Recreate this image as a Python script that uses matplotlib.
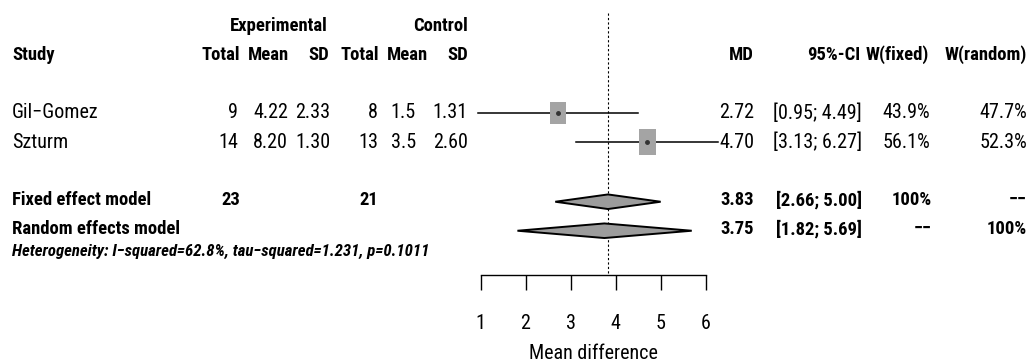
import matplotlib
matplotlib.use("Agg")
import numpy as np
from matplotlib import pyplot as plt
from matplotlib import font_manager
from matplotlib.patches import Rectangle, Polygon

# study data
studies = ["Gil\u2212Gomez", "Szturm"]
exp_n = [9, 14]
exp_mean = ["4.22", "8.20"]
exp_sd = ["2.33", "1.30"]
ctl_n = [8, 13]
ctl_mean = ["1.5", "3.5"]
ctl_sd = ["1.31", "2.60"]
md = [2.72, 4.70]
ci_lo = [0.95, 3.13]
ci_hi = [4.49, 6.27]
w_fixed = [43.9, 56.1]
w_random = [47.7, 52.3]

# pooled results
models = ["Fixed effect model", "Random effects model"]
pooled_md = [3.83, 3.75]
pooled_lo = [2.66, 1.82]
pooled_hi = [5.00, 5.69]
pooled_wf = ["100%", "\u2212\u2212"]
pooled_wr = ["\u2212\u2212", "100%"]
total_exp = 23
total_ctl = 21
hetero = "Heterogeneity: I\u2212squared=62.8%, tau\u2212squared=1.231, p=0.1011"
xticks = [1, 2, 3, 4, 5, 6]

# condensed sans with bold + italic if installed, else Liberation Sans made smaller
names = {f.name for f in font_manager.fontManager.ttflist}
if "Roboto Condensed" in names:
    fam, scale = "Roboto Condensed", 1.0
else:
    fam, scale = "Liberation Sans", 0.82
plt.rcParams['font.family'] = [fam, 'DejaVu Sans']
fs = 14.5 * scale
fs_bold = 13.4 * scale
fs_small = 12.1 * scale

W, H = 1035, 364
fig = plt.figure(figsize=(W / 100, H / 100), dpi=100)
ax = fig.add_axes([0, 0, 1, 1])

# layout: x=1 at px 480.5, 45.04 px per unit; rows 29 px apart
unit = 45.04
x0px = 480.5
ax.set_xlim(1 - x0px / unit, 1 + (W - x0px) / unit)
ax.set_ylim((H - 26) / 29, -26 / 29)


def px2x(px):
    return 1 + (px - x0px) / unit


row_head0 = 0
row_head = 1
rows = [3, 4]
row_fixed = 6
row_random = 7
row_het = 7.77
axis_row = (275 - 26) / 29

bold = dict(fontsize=fs_bold, fontweight='bold', va='center')
reg = dict(fontsize=fs, va='center')

# headers
ax.text(px2x(328), row_head0, "Experimental", ha='right', **bold)
ax.text(px2x(468), row_head0, "Control", ha='right', **bold)
ax.text(px2x(12), row_head, "Study", ha='left', **bold)
for txt, px in [("Total", 240), ("Mean", 289), ("SD", 329), ("Total", 379),
                ("Mean", 428), ("SD", 468), ("MD", 754), ("95%-CI", 860),
                ("W(fixed)", 929), ("W(random)", 1027)]:
    ax.text(px2x(px), row_head, txt, ha='right', **bold)

# study rows
for i, r in enumerate(rows):
    ax.text(px2x(12), r, studies[i], ha='left', **reg)
    ax.text(px2x(238), r, str(exp_n[i]), ha='right', **reg)
    ax.text(px2x(288), r, exp_mean[i], ha='right', **reg)
    ax.text(px2x(330), r, exp_sd[i], ha='right', **reg)
    ax.text(px2x(378), r, str(ctl_n[i]), ha='right', **reg)
    ax.text(px2x(416), r, ctl_mean[i], ha='right', **reg)
    ax.text(px2x(468), r, ctl_sd[i], ha='right', **reg)
    ax.text(px2x(754), r, f"{md[i]:.2f}", ha='right', **reg)
    ax.text(px2x(862), r, f"[{ci_lo[i]:.2f}; {ci_hi[i]:.2f}]", ha='right', **reg)
    ax.text(px2x(930), r, f"{w_fixed[i]:.1f}%", ha='right', **reg)
    ax.text(px2x(1027), r, f"{w_random[i]:.1f}%", ha='right', **reg)

    # CI line and weighted square
    ax.plot([ci_lo[i], ci_hi[i]], [r, r], color='black', lw=1.1, zorder=3)
    bw = 2.3 * np.sqrt(w_fixed[i]) / unit
    bh = 3.4 * np.sqrt(w_fixed[i]) / 29
    ax.add_patch(Rectangle((md[i] - bw / 2, r - bh / 2), bw, bh,
                           facecolor='#a4a4a4', edgecolor='none', zorder=4))
    ax.plot([md[i]], [r], marker='o', ms=2.5, color='#333333', zorder=5)

# pooled rows
for j, r in enumerate([row_fixed, row_random]):
    ax.text(px2x(12), r, models[j], ha='left', **bold)
    ax.text(px2x(754), r, f"{pooled_md[j]:.2f}", ha='right', **bold)
    ax.text(px2x(862), r, f"[{pooled_lo[j]:.2f}; {pooled_hi[j]:.2f}]", ha='right', **bold)
    ax.text(px2x(932), r, pooled_wf[j], ha='right', **bold)
    ax.text(px2x(1027), r, pooled_wr[j], ha='right', **bold)
    hh = 7.3 / 29
    yc = r + 0.06
    ax.add_patch(Polygon([(pooled_lo[j], yc), (pooled_md[j], yc - hh),
                          (pooled_hi[j], yc), (pooled_md[j], yc + hh)],
                         closed=True, facecolor='#9c9c9c', edgecolor='black',
                         lw=1.4, zorder=4))

ax.text(px2x(240), row_fixed, str(total_exp), ha='right', **bold)
ax.text(px2x(378), row_fixed, str(total_ctl), ha='right', **bold)
ax.text(px2x(12), row_het, hetero, ha='left', fontsize=fs_small,
        fontweight='bold', fontstyle='italic', va='center')

# fixed effect reference line
ax.plot([pooled_md[0], pooled_md[0]], [-0.45, axis_row], color='black',
        lw=0.8, ls=(0, (2, 2)), zorder=2)

# x axis
for s in ['top', 'left', 'right']:
    ax.spines[s].set_visible(False)
ax.spines['bottom'].set_position(('data', axis_row))
ax.spines['bottom'].set_bounds(xticks[0], xticks[-1])
ax.spines['bottom'].set_linewidth(1.0)
ax.set_xticks(xticks)
ax.set_xticklabels([str(t) for t in xticks])
ax.set_yticks([])
ax.tick_params(axis='x', direction='out', length=10.8, width=1.0,
               labelsize=fs, pad=17)
ax.text(3.5, (353 - 26) / 29, "Mean difference", ha='center', va='center',
        fontsize=fs)

fig.savefig("out.png", dpi=100)
